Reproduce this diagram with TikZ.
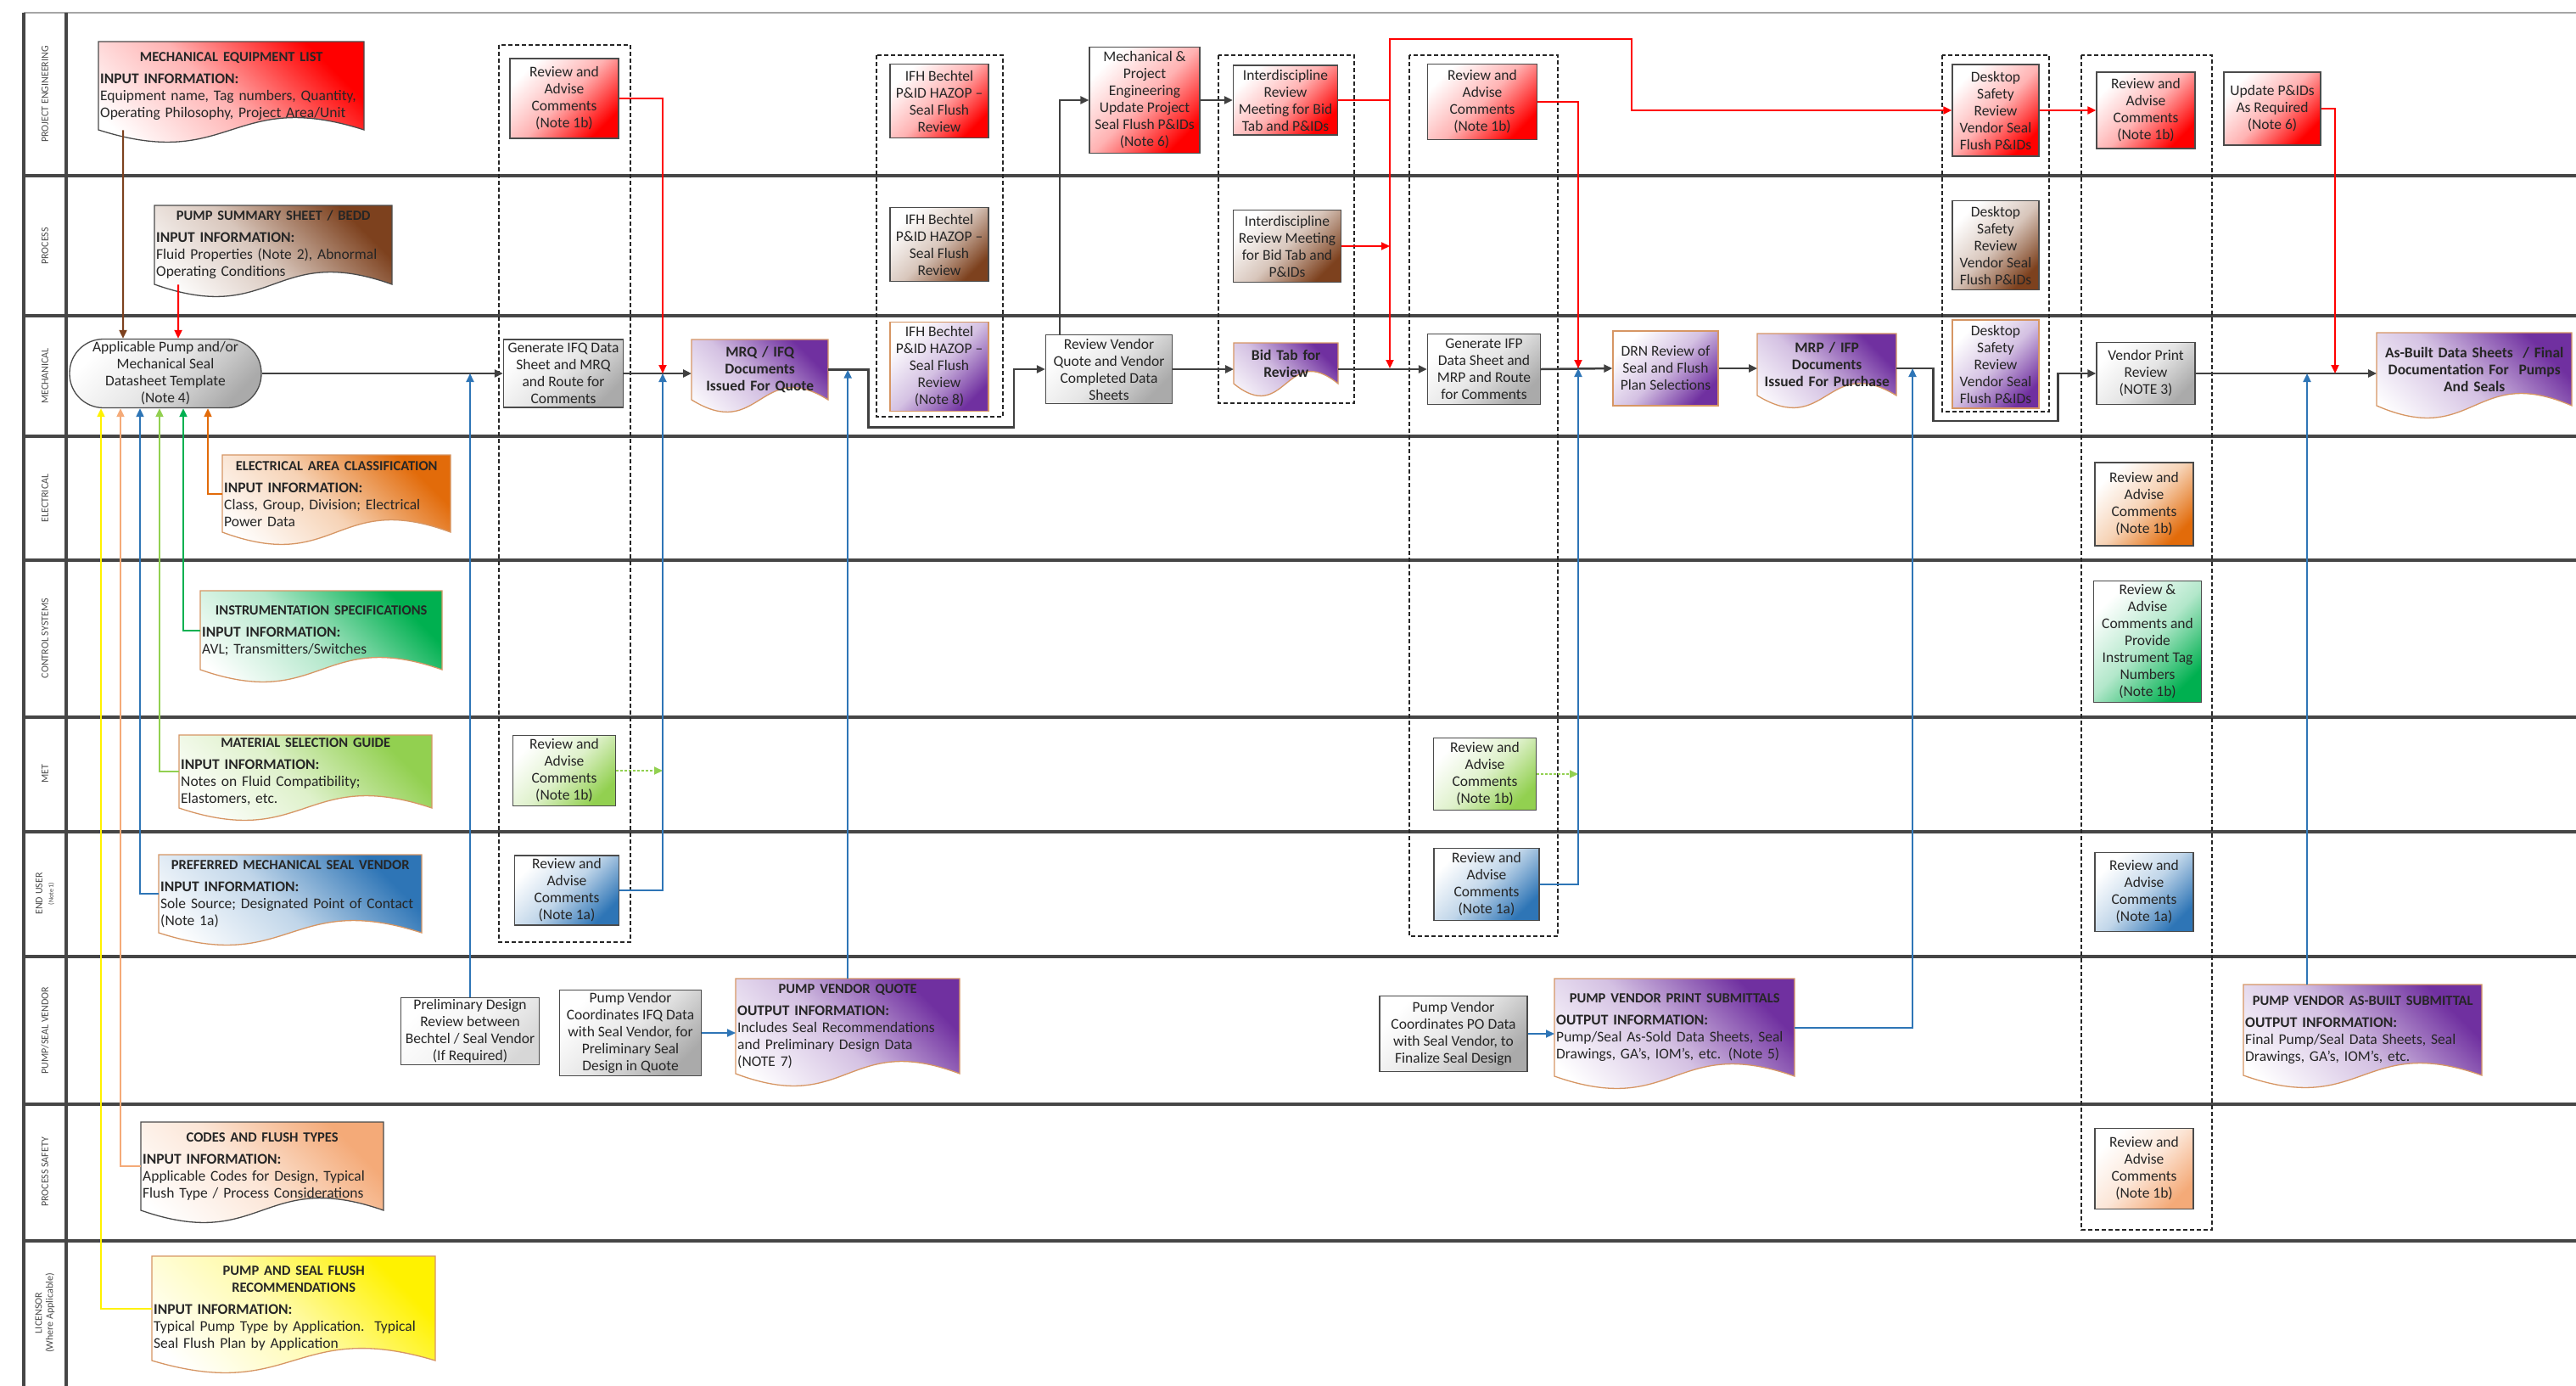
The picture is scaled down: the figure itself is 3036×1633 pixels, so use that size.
\documentclass[tikz,border=0pt]{standalone}
\usepackage{fontspec}
\setmainfont{Carlito}
\usetikzlibrary{arrows.meta}

\definecolor{flowgray}{RGB}{64,64,64}
\definecolor{boxline}{RGB}{75,75,75}
\definecolor{docline}{RGB}{214,150,100}
\definecolor{lanegray}{RGB}{70,70,70}
\definecolor{boxgray}{RGB}{170,170,170}
\definecolor{prelimgray}{RGB}{215,215,215}
\definecolor{pered}{RGB}{255,0,0}
\definecolor{procbrown}{RGB}{125,65,30}
\definecolor{mechpurple}{RGB}{112,48,160}
\definecolor{elecorange}{RGB}{226,107,10}
\definecolor{ctlgreen}{RGB}{0,176,80}
\definecolor{metlime}{RGB}{146,208,80}
\definecolor{userblue}{RGB}{46,117,182}
\definecolor{safetypeach}{RGB}{244,170,120}
\definecolor{licyellow}{RGB}{255,242,0}

\newcommand{\bxfont}{\fontsize{17.5}{20}\selectfont}
\newcommand{\ttlfont}{\fontsize{16.5}{20}\selectfont\bfseries}
\newcommand{\lanefont}{\fontsize{12}{13}\selectfont}

% document shape: wavy bottom edge, text node on top of it
\newcommand{\docnode}[8]{%
  \pgfmathsetmacro{\docmid}{(#4+#6)/2}%
  \pgfmathsetmacro{\docw}{#6-#4-4}%
  \pgfmathsetmacro{\doch}{#7-#5}%
  \path[draw=#3, line width=1.3pt, top color=#2, bottom color=white,
        middle color=#2!30!white, shading angle=-45]
    (#4,#5) -- (#6,#5) -- (#6,#7)
    .. controls (\docmid,#7-50) and (\docmid,#7+50) .. (#4,#7) -- cycle;
  \node[doctext, text width=\docw pt, minimum height=\doch pt, anchor=north west] (#1) at (#4,#5) {#8};
}

\begin{document}
\begin{tikzpicture}[x=1pt, y=-1pt, >={Triangle[length=10pt,width=9pt]},
    procbox/.style={draw=boxline, line width=1.3pt, align=center, font=\bxfont, text=black!85,
      inner sep=1pt, top color=white, bottom color=#1, middle color=#1!30!white, shading angle=45},
    procbox/.default={boxgray},
    wh/.style 2 args={minimum width=#1pt, minimum height=#2pt},
    doctext/.style={align=left, font=\bxfont, text=black!85, inner xsep=2pt, inner ysep=3pt},
    laneline/.style={draw=lanegray, line width=3.5pt},
    lanelabel/.style={rotate=90, font=\lanefont, text=gray!60!black, align=center},
    groupbox/.style={draw=black!85, line width=1.3pt, dash pattern=on 5pt off 3pt},
    flow/.style={draw=flowgray, line width=2.5pt, ->},
    redline/.style={draw=pered, line width=2pt, ->},
    blueline/.style={draw=userblue, line width=2pt, ->},
    limeline/.style={draw=metlime, line width=2pt, densely dashed, ->},
    feed/.style={draw=#1, line width=2pt, ->}]

    \useasboundingbox (0,0) rectangle (3036,1633);
    \fill[white] (0,0) rectangle (3036,1633);

    % swim lanes
    \draw[draw=gray!70, line width=2pt] (28,15) -- (3036,15);
    \draw[laneline] (28,15) -- (28,1633);
    \draw[laneline] (78,15) -- (78,1633);
    \draw[laneline] (28,207) -- (3036,207);
    \draw[laneline] (28,372) -- (3036,372);
    \draw[laneline] (28,514) -- (3036,514);
    \draw[laneline] (28,660) -- (3036,660);
    \draw[laneline] (28,845) -- (3036,845);
    \draw[laneline] (28,980) -- (3036,980);
    \draw[laneline] (28,1127) -- (3036,1127);
    \draw[laneline] (28,1301) -- (3036,1301);
    \draw[laneline] (28,1462) -- (3036,1462);

    \node[lanelabel] (lpe) at (53,111) {PROJECT ENGINEERING};
    \node[lanelabel] (lproc) at (53,290) {PROCESS};
    \node[lanelabel] (lmech) at (53,443) {MECHANICAL};
    \node[lanelabel] (lelec) at (53,587) {ELECTRICAL};
    \node[lanelabel] (lctl) at (53,752) {CONTROL SYSTEMS};
    \node[lanelabel] (lmet) at (53,912) {MET};
    \node[lanelabel] (luser) at (53,1053) {END USER\\{\fontsize{8}{9}\selectfont (Note 1)}};
    \node[lanelabel] (lvendor) at (53,1214) {PUMP/SEAL VENDOR};
    \node[lanelabel] (lsafety) at (53,1381) {PROCESS SAFETY};
    \node[lanelabel] (llic) at (53,1547) {LICENSOR\\(Where Applicable)};

    % review groups
    \draw[groupbox] (588,53) rectangle (743,1110);
    \draw[groupbox] (1033,65) rectangle (1182,491);
    \draw[groupbox] (1436,65) rectangle (1596,475);
    \draw[groupbox] (1661,65) rectangle (1836,1103);
    \draw[groupbox] (2289,65) rectangle (2415,485);
    \draw[groupbox] (2453,65) rectangle (2607,1449);

    % input documents
    \docnode{mel}{pered}{boxline}{116}{49}{429}{153}{{\centering\ttlfont MECHANICAL EQUIPMENT LIST\par}\vspace{6pt}\textbf{INPUT INFORMATION:}\\Equipment name, Tag numbers, Quantity,\\Operating Philosophy, Project Area/Unit}
    \docnode{pss}{procbrown}{boxline}{182}{242}{462}{335}{{\centering\ttlfont PUMP SUMMARY SHEET / BEDD\par}\vspace{6pt}\textbf{INPUT INFORMATION:}\\Fluid Properties (Note 2), Abnormal\\Operating Conditions}
    \docnode{elec}{elecorange}{docline}{262}{536}{531}{627}{{\centering\ttlfont ELECTRICAL AREA CLASSIFICATION\par}\vspace{6pt}\textbf{INPUT INFORMATION:}\\Class, Group, Division; Electrical\\Power Data}
    \docnode{inst}{ctlgreen}{docline}{236}{696}{521}{789}{{\centering\ttlfont INSTRUMENTATION SPECIFICATIONS\par}\vspace{6pt}\textbf{INPUT INFORMATION:}\\AVL; Transmitters/Switches}
    \docnode{mat}{metlime}{docline}{211}{866}{509}{952}{{\centering\ttlfont MATERIAL SELECTION GUIDE\par}\vspace{6pt}\textbf{INPUT INFORMATION:}\\Notes on Fluid Compatibility;\\Elastomers, etc.}
    \docnode{pref}{userblue}{docline}{187}{1007}{497}{1099}{{\centering\ttlfont PREFERRED MECHANICAL SEAL VENDOR\par}\vspace{6pt}\textbf{INPUT INFORMATION:}\\Sole Source; Designated Point of Contact\\(Note 1a)}
    \docnode{codes}{safetypeach}{boxline}{166}{1322}{452}{1426}{{\centering\ttlfont CODES AND FLUSH TYPES\par}\vspace{6pt}\textbf{INPUT INFORMATION:}\\Applicable Codes for Design, Typical\\Flush Type / Process Considerations}
    \docnode{lic}{licyellow}{docline}{179}{1480}{513}{1603}{{\centering\ttlfont PUMP AND SEAL FLUSH\\RECOMMENDATIONS\par}\vspace{6pt}\textbf{INPUT INFORMATION:}\\Typical Pump Type by Application.\ \ Typical\\Seal Flush Plan by Application}

    % output documents
    \docnode{mrq}{mechpurple}{docline}{815}{400}{976}{471}{{\centering\bfseries MRQ / IFQ\\Documents\\Issued For Quote\par}}
    \docnode{bidtab}{mechpurple}{docline}{1454}{404}{1577}{452}{{\centering\bfseries Bid Tab for\\Review\par}}
    \docnode{mrp}{mechpurple}{docline}{2071}{393}{2235}{466}{{\centering\bfseries MRP / IFP\\Documents\\Issued For Purchase\par}}
    \docnode{asbuilt}{mechpurple}{docline}{2801}{392}{3031}{478}{{\centering\bfseries As-Built Data Sheets\ \ / Final\\Documentation For\ \ Pumps\\And Seals\par}}
    \docnode{quote}{mechpurple}{docline}{867}{1153}{1131}{1265}{{\centering\ttlfont PUMP VENDOR QUOTE\par}\vspace{6pt}\textbf{OUTPUT INFORMATION:}\\Includes Seal Recommendations\\and Preliminary Design Data\\(NOTE 7)}
    \docnode{print}{mechpurple}{docline}{1832}{1153}{2115}{1268}{{\centering\ttlfont PUMP VENDOR PRINT SUBMITTALS\par}\vspace{6pt}\textbf{OUTPUT INFORMATION:}\\Pump/Seal As-Sold Data Sheets, Seal\\Drawings, GA’s, IOM’s, etc. (Note 5)}
    \docnode{asbsub}{mechpurple}{docline}{2644}{1160}{2925}{1267}{{\centering\ttlfont PUMP VENDOR AS-BUILT SUBMITTAL\par}\vspace{6pt}\textbf{OUTPUT INFORMATION:}\\Final Pump/Seal Data Sheets, Seal\\Drawings, GA’s, IOM’s, etc.}

    % project engineering tasks
    \node[procbox=pered, wh={128}{94}] (rev1) at (665,116) {Review and\\Advise\\Comments\\(Note 1b)};
    \node[procbox=pered, wh={116}{87}] (ifhpe) at (1107,119) {IFH Bechtel\\P\&ID HAZOP –\\Seal Flush\\Review};
    \node[procbox=pered, wh={130}{125}] (mechpe) at (1349,118) {Mechanical \&\\Project\\Engineering\\Update Project\\Seal Flush P\&IDs\\(Note 6)};
    \node[procbox=pered, wh={123}{82}] (intpe) at (1515,118) {Interdiscipline\\Review\\Meeting for Bid\\Tab and P\&IDs};
    \node[procbox=pered, wh={129}{89}] (rev4) at (1747,120) {Review and\\Advise\\Comments\\(Note 1b)};
    \node[procbox=pered, wh={102}{108}] (dsrpe) at (2352,130) {Desktop\\Safety\\Review\\Vendor Seal\\Flush P\&IDs};
    \node[procbox=pered, wh={116}{90}] (rev6) at (2529,130) {Review and\\Advise\\Comments\\(Note 1b)};
    \node[procbox=pered, wh={114}{86}] (upd) at (2678,128) {Update P\&IDs\\As Required\\(Note 6)};

    % process tasks
    \node[procbox=procbrown, wh={116}{87}] (ifhproc) at (1107,288) {IFH Bechtel\\P\&ID HAZOP –\\Seal Flush\\Review};
    \node[procbox=procbrown, wh={127}{85}] (intproc) at (1517,290) {Interdiscipline\\Review Meeting\\for Bid Tab and\\P\&IDs};
    \node[procbox=procbrown, wh={102}{105}] (dsrproc) at (2352,289) {Desktop\\Safety\\Review\\Vendor Seal\\Flush P\&IDs};

    % mechanical tasks
    \node[procbox, rounded corners=40pt, wh={226}{81}] (app) at (195,440) {Applicable Pump and/or\\Mechanical Seal\\Datasheet Template\\(Note 4)};
    \node[procbox, wh={141}{80}] (genifq) at (664,440) {Generate IFQ Data\\Sheet and MRQ\\and Route for\\Comments};
    \node[procbox=mechpurple, draw=docline, wh={116}{105}] (ifhmech) at (1107,432) {IFH Bechtel\\P\&ID HAZOP –\\Seal Flush\\Review\\(Note 8)};
    \node[procbox, wh={149}{81}] (revquote) at (1307,435) {Review Vendor\\Quote and Vendor\\Completed Data\\Sheets};
    \node[procbox, wh={133}{83}] (genifp) at (1749,435) {Generate IFP\\Data Sheet and\\MRP and Route\\for Comments};
    \node[procbox=mechpurple, draw=docline, wh={124}{88}] (drn) at (1963,434) {DRN Review of\\Seal and Flush\\Plan Selections};
    \node[procbox=mechpurple, draw=docline, wh={102}{104}] (dsrmech) at (2352,429) {Desktop\\Safety\\Review\\Vendor Seal\\Flush P\&IDs};
    \node[procbox, wh={116}{73}] (vpr) at (2529,440) {Vendor Print\\Review\\(NOTE 3)};

    % other disciplines
    \node[procbox=elecorange, wh={116}{98}] (revelec) at (2527,594) {Review and\\Advise\\Comments\\(Note 1b)};
    \node[procbox=ctlgreen, wh={127}{143}] (revctl) at (2531,756) {Review \&\\Advise\\Comments and\\Provide\\Instrument Tag\\Numbers\\(Note 1b)};
    \node[procbox=metlime, wh={121}{83}] (revmet1) at (665,908) {Review and\\Advise\\Comments\\(Note 1b)};
    \node[procbox=metlime, wh={121}{85}] (revmet4) at (1750,912) {Review and\\Advise\\Comments\\(Note 1b)};
    \node[procbox=userblue, wh={123}{82}] (revend1) at (668,1049) {Review and\\Advise\\Comments\\(Note 1a)};
    \node[procbox=userblue, wh={124}{85}] (revend4) at (1752,1042) {Review and\\Advise\\Comments\\(Note 1a)};
    \node[procbox=userblue, wh={116}{93}] (revend6) at (2527,1051) {Review and\\Advise\\Comments\\(Note 1a)};
    \node[procbox=prelimgray, wh={163}{79}] (prelim) at (554,1215) {Preliminary Design\\Review between\\Bechtel / Seal Vendor\\(If Required)};
    \node[procbox, wh={167}{101}] (coordifq) at (743,1217) {Pump Vendor\\Coordinates IFQ Data\\with Seal Vendor, for\\Preliminary Seal\\Design in Quote};
    \node[procbox, wh={174}{89}] (coordpo) at (1713,1218) {Pump Vendor\\Coordinates PO Data\\with Seal Vendor, to\\Finalize Seal Design};
    \node[procbox=safetypeach, wh={116}{95}] (revps) at (2527,1377) {Review and\\Advise\\Comments\\(Note 1b)};

    % junctions on the main line
    \coordinate (j1) at (781,440);
    \coordinate (j2) at (1638,434);
    \coordinate (j3) at (1860,434);
    \coordinate (j4) at (2752,440);
    \coordinate (j5) at (2254,434);
    \coordinate (j6) at (2719,440);
    \coordinate (rtop) at (1923,46);

    % inputs into the datasheet template
    \draw[feed=procbrown] ([xshift=-127.5pt]mel.south) -- ([xshift=-50pt]app.north);
    \draw[redline] ([xshift=-112pt]pss.south) -- ([xshift=15pt]app.north);
    \draw[feed=licyellow] (lic.west) -| ([xshift=-76pt]app.south);
    \draw[feed=safetypeach] (codes.west) -| ([xshift=-53pt]app.south);
    \draw[feed=userblue] (pref.west) -| ([xshift=-30pt]app.south);
    \draw[feed=metlime] (mat.west) -| ([xshift=-7pt]app.south);
    \draw[feed=ctlgreen] (inst.west) -| ([xshift=21pt]app.south);
    \draw[feed=elecorange] (elec.west) -| ([xshift=50pt]app.south);

    % main mechanical flow
    \draw[flow] (app.east) -- (genifq.west);
    \draw[flow] (genifq.east) -- (genifq.east -| mrq.west);
    \draw[flow] (mrq.east) -- ++(47,0) -- ++(0,68) -| ([xshift=-37pt]revquote.west) -- (revquote.west);
    \draw[flow] ([xshift=-58pt]revquote.north) |- (mechpe.west);
    \draw[flow] (revquote.east) -- (revquote.east -| bidtab.west);
    \draw[flow] (mechpe.east) -- (intpe.west);
    \draw[flow] (genifp.west -| bidtab.east) -- (genifp.west);
    \draw[flow] (genifp.east) -- (drn.west);
    \draw[flow] (drn.east) -- (drn.east -| mrp.west);
    \draw[flow] (mrp.east |- drn.east) -- ++(43,0) -- ++(0,62) -| ([xshift=-45pt]vpr.west) -- (vpr.west);
    \draw[flow] (vpr.east) -- (vpr.east -| asbuilt.west);

    % comments back to mechanical
    \draw[redline] (rev1.east) -| (j1);
    \draw[redline] (intpe.east) -| (j2);
    \draw[redline] (intproc.east) -- (intproc.east -| j2);
    \draw[redline] (j2 |- intpe.east) |- (rtop) |- (dsrpe.west);
    \draw[redline] (rev4.east) -| (j3);
    \draw[redline] (dsrpe.east) -- (rev6.west);
    \draw[redline] (upd.east) -| (j4);
    \draw[limeline] (revmet1.east) -- (revmet1.east -| j1);
    \draw[limeline] (revmet4.east) -- (revmet4.east -| j3);
    \draw[blueline] (revend1.east) -| (j1);
    \draw[blueline] (revend4.east) -| (j3);

    % vendor submittals
    \draw[blueline] (prelim.north) -- (prelim.north |- app.east);
    \draw[blueline] (coordifq.east) -- (coordifq.east -| quote.west);
    \draw[blueline] (quote.north) -- (quote.north |- mrq.east);
    \draw[blueline] (coordpo.east) -- (coordpo.east -| print.west);
    \draw[blueline] (print.east) -| (j5);
    \draw[blueline] (j6 |- asbsub.north) -- (j6);
\end{tikzpicture}
\end{document}
